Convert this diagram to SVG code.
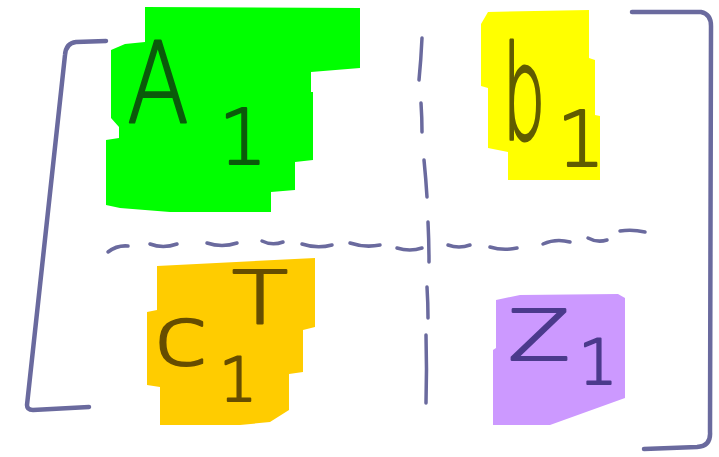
<svg xmlns="http://www.w3.org/2000/svg" width="719" height="457" viewBox="0 0 719 457">
<style>
.ln{fill:none;stroke:#6a6a9e;stroke-linecap:round;stroke-linejoin:round}
.br{stroke-width:4.5}
.da{stroke-width:3.5}
.t{font-family:"DejaVu Sans","Liberation Sans",sans-serif;font-weight:200;stroke-width:2.2;stroke-linejoin:round;text-anchor:middle}
.kg{fill:#0b5a0b;stroke:#0b5a0b}
.ky{fill:#615c00;stroke:#615c00}
.ko{fill:#664d00;stroke:#664d00}
.kp{fill:#4b3a8c;stroke:#4b3a8c}
</style>
<rect width="719" height="457" fill="#ffffff"/>
<g id="block-A1">
<polygon fill="#00ff00" points="145,7 360,8 360,68 311,72 311,92 313,92 313,160 295,162 295,190 271,192 271,212 170,212 120,208 106,205 106,140 119,138 119,127 111,118 111,50 125,44 145,42"/>
<text class="t kg" x="158" y="123" font-size="112" textLength="62" lengthAdjust="spacingAndGlyphs">A</text>
<text class="t kg" x="243" y="164" font-size="77">1</text>
</g>
<g id="block-b1">
<polygon fill="#ffff00" points="481,24 488,12 589,10 589,58 595,60 595,115 600,116 600,180 508,180 508,152 488,148 488,88 481,86"/>
<text class="t ky" transform="translate(524,139) scale(0.52,1)" x="0" y="0" font-size="130" style="stroke-width:3">b</text>
<text class="t ky" x="581" y="166" font-size="76">1</text>
</g>
<g id="block-c1T">
<polygon fill="#ffcc00" points="157,266 315,258 315,327 303,330 303,372 289,374 289,410 270,422 240,425 160,425 160,387 147,385 147,312 157,310"/>
<text class="t ko" x="181" y="365" font-size="82" textLength="54" lengthAdjust="spacingAndGlyphs">c</text>
<text class="t ko" x="260" y="323" font-size="73" textLength="56" lengthAdjust="spacingAndGlyphs">T</text>
<text class="t ko" x="238" y="401" font-size="60">1</text>
</g>
<g id="block-Z1">
<polygon fill="#cc99ff" points="496,300 520,295 618,294 625,298 625,398 550,425 493,425 493,350 496,348"/>
<text class="t kp" x="539" y="360" font-size="69" textLength="62" lengthAdjust="spacingAndGlyphs">Z</text>
<text class="t kp" x="598" y="384" font-size="62">1</text>
</g>
<g id="matrix-lines">
<path class="ln br" d="M106,41 L76,42 Q66,43 65,55 L27,405 Q27,410 33,410 L89,407"/>
<path class="ln br" d="M632,12 L701,12 Q711,14 711,26 L710,432 Q711,446 697,447 L644,449"/>
<g class="ln da">
<path d="M422,38 Q421,60 419,80"/>
<path d="M421,103 Q422,118 422,132"/>
<path d="M424,160 Q426,180 427,197"/>
<path d="M428,222 Q429,242 429,262"/>
<path d="M427,287 Q428,303 428,318"/>
<path d="M426,335 Q427,370 426,403"/>
<path d="M108,252 Q117,245 128,246"/>
<path d="M150,244 Q163,249 177,244"/>
<path d="M207,243 Q222,248 237,243"/>
<path d="M262,241 Q272,246 283,242"/>
<path d="M302,244 Q317,249 332,245"/>
<path d="M350,243 Q365,248 380,245"/>
<path d="M397,248 Q410,252 422,248"/>
<path d="M448,245 Q459,249 470,245"/>
<path d="M490,247 Q503,251 517,248"/>
<path d="M543,244 Q556,238 570,242"/>
<path d="M588,238 Q597,243 607,240"/>
<path d="M620,231 Q632,229 645,232"/>
</g>
</g>
</svg>
